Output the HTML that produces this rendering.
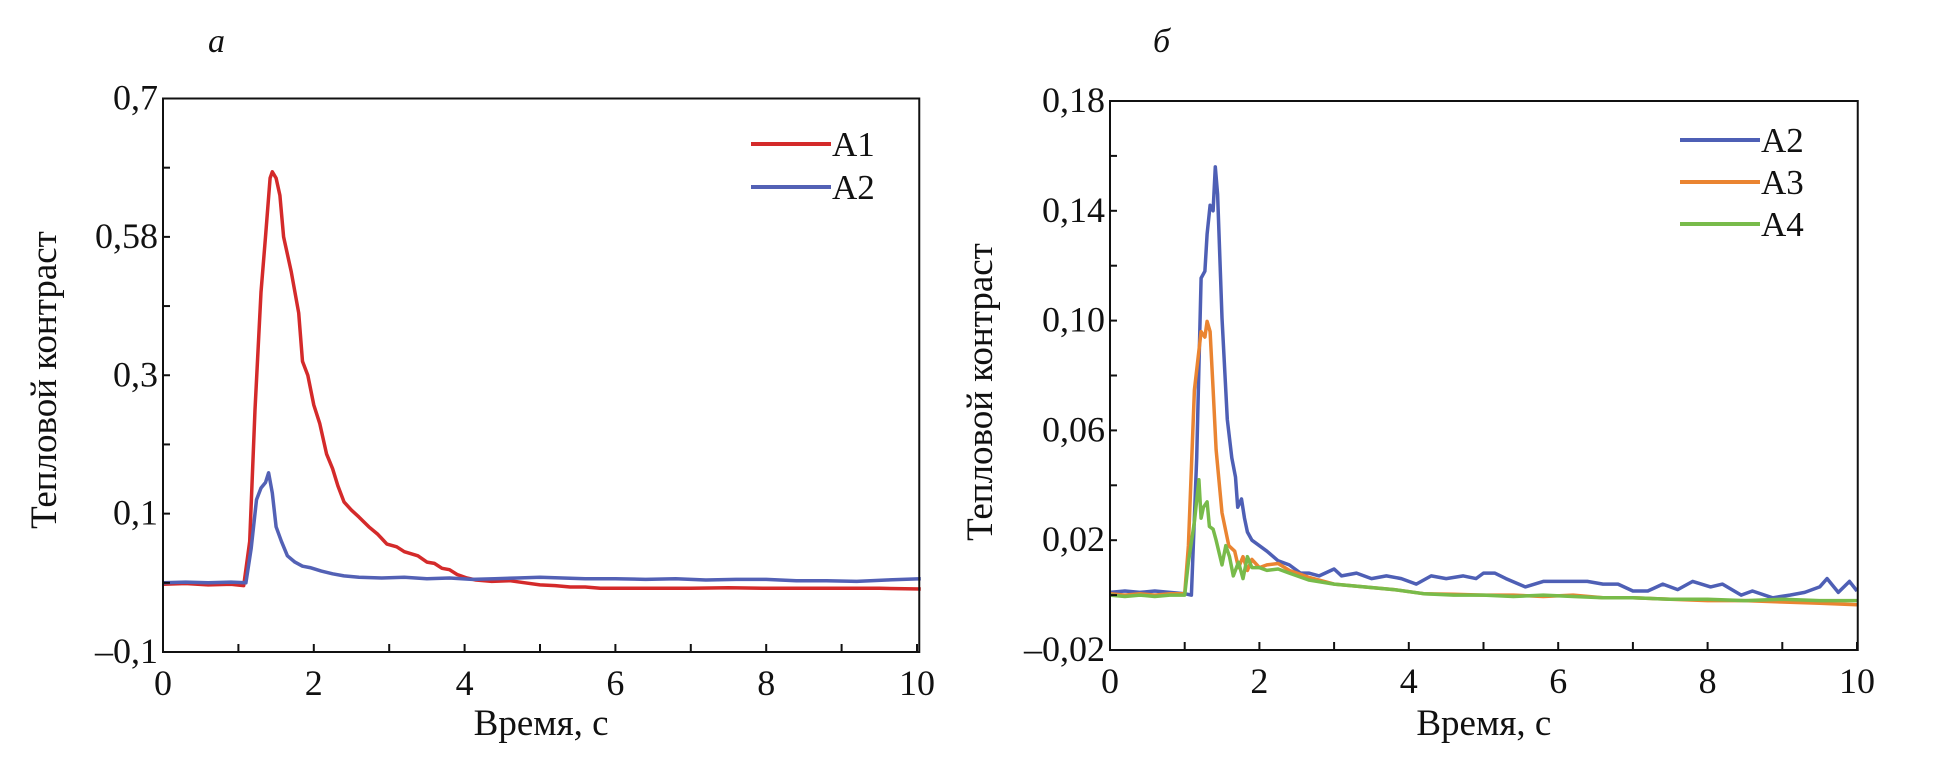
<!DOCTYPE html>
<html><head><meta charset="utf-8">
<style>
html,body{margin:0;padding:0;background:#fff;}
svg{display:block;font-family:"Liberation Serif",serif;}
</style></head>
<body>
<svg id="fig" width="1938" height="767" viewBox="0 0 1938 767" xmlns="http://www.w3.org/2000/svg"></svg>
<script>
// ---- Panel a data ----
const aXTicks = [0, 2, 4, 6, 8, 10];
const aXTickLabels = ["0", "2", "4", "6", "8", "10"];
const aYTicks = [-0.1, 0.1, 0.3, 0.5, 0.7];
const aYTickLabels = ["–0,1", "0,1", "0,3", "0,58", "0,7"];
const aA1T = [0,0.3,0.6,0.9,1.07,1.15,1.22,1.3,1.36,1.42,1.45,1.5,1.55,1.6,1.7,1.8,1.85,1.92,2.0,2.08,2.17,2.25,2.32,2.4,2.5,2.6,2.73,2.85,2.97,3.1,3.2,3.38,3.5,3.6,3.7,3.8,3.9,4.03,4.15,4.36,4.6,4.8,5.0,5.2,5.4,5.6,5.8,6.2,6.6,7.0,7.5,8.0,8.5,9.0,9.5,10.05];
const aA1V = [-0.002,-0.001,-0.003,-0.002,-0.004,0.06,0.25,0.42,0.5,0.585,0.594,0.585,0.56,0.5,0.45,0.39,0.32,0.3,0.257,0.23,0.186,0.165,0.14,0.117,0.105,0.095,0.081,0.07,0.056,0.052,0.045,0.039,0.03,0.028,0.021,0.019,0.012,0.007,0.004,0.002,0.003,0.0,-0.003,-0.004,-0.006,-0.006,-0.008,-0.008,-0.008,-0.008,-0.007,-0.008,-0.008,-0.008,-0.008,-0.009];
const aA2T = [0,0.3,0.6,0.9,1.1,1.17,1.24,1.3,1.36,1.4,1.45,1.5,1.57,1.65,1.75,1.85,1.95,2.1,2.25,2.4,2.6,2.9,3.2,3.5,3.8,4.1,4.4,4.7,5.0,5.3,5.6,6.0,6.4,6.8,7.2,7.6,8.0,8.4,8.8,9.2,9.6,10.05];
const aA2V = [0.0,0.001,0.0,0.001,0.0,0.05,0.12,0.137,0.145,0.159,0.13,0.081,0.06,0.039,0.03,0.024,0.022,0.017,0.013,0.01,0.008,0.007,0.008,0.006,0.007,0.005,0.006,0.007,0.008,0.007,0.006,0.006,0.005,0.006,0.004,0.005,0.005,0.003,0.003,0.002,0.004,0.006];
// ---- Panel b data ----
const bXTicks = [0, 2, 4, 6, 8, 10];
const bXTickLabels = ["0", "2", "4", "6", "8", "10"];
const bYTicks = [-0.02, 0.02, 0.06, 0.10, 0.14, 0.18];
const bYTickLabels = ["–0,02", "0,02", "0,06", "0,10", "0,14", "0,18"];
const bA2T = [0,0.2,0.4,0.6,0.8,1.0,1.09,1.16,1.22,1.27,1.3,1.34,1.38,1.41,1.44,1.5,1.57,1.63,1.68,1.71,1.76,1.8,1.84,1.9,2.0,2.1,2.25,2.4,2.55,2.66,2.8,3.0,3.1,3.3,3.5,3.7,3.9,4.1,4.3,4.5,4.73,4.9,5.0,5.15,5.3,5.56,5.8,6.0,6.39,6.6,6.8,7.0,7.2,7.4,7.6,7.8,8.04,8.2,8.45,8.6,8.87,9.1,9.3,9.5,9.6,9.75,9.9,10.0];
const bA2V = [0.001,0.0015,0.001,0.0015,0.001,0.0005,0.0,0.05,0.1155,0.118,0.1315,0.142,0.14,0.156,0.146,0.101,0.064,0.05,0.043,0.032,0.035,0.028,0.023,0.02,0.018,0.016,0.0125,0.011,0.008,0.008,0.007,0.0095,0.007,0.008,0.006,0.007,0.006,0.004,0.007,0.006,0.007,0.006,0.008,0.008,0.006,0.003,0.005,0.005,0.005,0.004,0.004,0.0015,0.0015,0.004,0.002,0.005,0.003,0.004,0.0,0.0015,-0.001,0.0,0.001,0.003,0.006,0.001,0.005,0.0015];
const bA3T = [0,0.2,0.4,0.6,0.8,1.0,1.05,1.13,1.22,1.27,1.3,1.34,1.38,1.42,1.5,1.59,1.67,1.72,1.78,1.84,1.9,2.0,2.1,2.25,2.4,2.66,3.0,3.4,3.8,4.2,4.6,5.0,5.4,5.8,6.2,6.6,7.0,7.5,8.0,8.5,9.0,9.5,10.0];
const bA3V = [0.0005,0.0,0.0005,0.0,0.0005,0.0005,0.018,0.0747,0.096,0.094,0.0997,0.096,0.075,0.053,0.03,0.018,0.016,0.01,0.014,0.009,0.013,0.01,0.011,0.0115,0.009,0.0065,0.004,0.003,0.002,0.0005,0.0003,0.0,0.0,-0.0005,0.0,-0.001,-0.001,-0.0015,-0.002,-0.002,-0.0025,-0.003,-0.0035];
const bA4T = [0,0.2,0.4,0.6,0.8,1.0,1.05,1.13,1.19,1.22,1.25,1.3,1.33,1.38,1.42,1.5,1.55,1.6,1.65,1.72,1.78,1.84,1.9,2.0,2.1,2.25,2.4,2.66,3.0,3.4,3.8,4.2,4.6,5.0,5.4,5.8,6.2,6.6,7.0,7.5,8.0,8.5,9.0,9.5,10.0];
const bA4V = [0.0,-0.0005,0.0,-0.0005,0.0,0.0,0.012,0.0267,0.042,0.028,0.032,0.034,0.025,0.024,0.02,0.011,0.018,0.014,0.007,0.012,0.006,0.014,0.01,0.01,0.009,0.0095,0.008,0.0055,0.004,0.003,0.002,0.0005,0.0,0.0,-0.0005,0.0,-0.0005,-0.001,-0.001,-0.0015,-0.0015,-0.002,-0.0015,-0.002,-0.002];

const NS = "http://www.w3.org/2000/svg";
const svg = document.getElementById("fig");
function mk(tag, attrs, parent) {
  const e = document.createElementNS(NS, tag);
  for (const k in attrs) e.setAttribute(k, attrs[k]);
  (parent || svg).appendChild(e);
  return e;
}

function drawPanel(cfg) {
  const g = mk("g", {});
  
  
  const sx = v => cfg.x0 + (v - cfg.xmin) / (cfg.xmax - cfg.xmin) * (cfg.x1 - cfg.x0);
  const sy = v => cfg.y1 - (v - cfg.ymin) / (cfg.ymax - cfg.ymin) * (cfg.y1 - cfg.y0);
  const right = sx(cfg.xend);
  cfg.series.forEach(s => {
    let d = "";
    s.t.forEach((t, i) => { d += (i ? "L" : "M") + sx(t).toFixed(1) + "," + sy(s.v[i]).toFixed(1); });
    const p = mk("path", {d: d, fill: "none", stroke: s.color, "stroke-width": 3.5, "stroke-linejoin": "round"}, g);
    
    
  });
  const fr = mk("rect", {x: cfg.x0, y: cfg.y0, width: right - cfg.x0, height: cfg.y1 - cfg.y0, fill: "none", stroke: "#111", "stroke-width": 2}, g);
  
  
  for (let v = cfg.xmin; v <= cfg.xmax + 1e-9; v += 1) {
    const t = mk("line", {x1: sx(v), x2: sx(v), y1: cfg.y1, y2: cfg.y1 - 8, stroke: "#111", "stroke-width": 2}, g);
    
    
  }
  cfg.xTicks.forEach((v, i) => {
    const tx = mk("text", {x: sx(v), y: cfg.y1 + 43, "font-size": 36, "text-anchor": "middle", fill: "#111"}, g);
    tx.textContent = cfg.xLabels[i];
    
    
  });
  for (let i = 0; i < cfg.yTicks.length - 1; i++) {
    const a = cfg.yTicks[i], b = cfg.yTicks[i + 1];
    [a, (a + b) / 2].forEach(v => {
      const t = mk("line", {x1: cfg.x0, x2: cfg.x0 + 7, y1: sy(v), y2: sy(v), stroke: "#111", "stroke-width": 2}, g);
      
      
    });
  }
  cfg.yTicks.forEach((v, i) => {
    const tx = mk("text", {x: cfg.x0 - 5, y: sy(v) + 11, "font-size": 36, "text-anchor": "end", fill: "#111"}, g);
    tx.textContent = cfg.yLabels[i];
    
    
  });
  const xt = mk("text", {x: (cfg.x0 + right) / 2, y: 735, "font-size": 37, "text-anchor": "middle", fill: "#111"}, g);
  xt.textContent = "Время, с";
  
  
  const yt = mk("text", {x: 0, y: 0, "font-size": 37, "text-anchor": "middle", fill: "#111", transform: "translate(" + cfg.yTitleX + "," + cfg.yTitleY + ") rotate(-90)"}, g);
  yt.textContent = "Тепловой контраст";
  
  
  const pl = mk("text", {x: cfg.labelX, y: 52, "font-size": 34, "font-style": "italic", fill: "#111"}, g);
  pl.textContent = cfg.label;
  
  
  cfg.series.forEach((s, i) => {
    const ly = cfg.legY + i * cfg.legStep;
    const ll = mk("line", {x1: cfg.legX, x2: cfg.legX + 80, y1: ly, y2: ly, stroke: s.color, "stroke-width": 4}, g);
    
    
    const lt = mk("text", {x: cfg.legX + 81, y: ly + 12, "font-size": 35, fill: "#111"}, g);
    lt.textContent = s.label;
    
    
  });
}

drawPanel({name: "panel-a", label: "a", labelX: 208,
  x0: 163, x1: 917, y0: 98.5, y1: 652, xmin: 0, xmax: 10, xend: 10.03, ymin: -0.1, ymax: 0.7,
  xTicks: aXTicks, xLabels: aXTickLabels, yTicks: aYTicks, yLabels: aYTickLabels,
  yTitleX: 56, yTitleY: 380, legX: 751, legY: 144, legStep: 43,
  series: [{label: "A1", color: "#d42a2a", t: aA1T, v: aA1V}, {label: "A2", color: "#5361b5", t: aA2T, v: aA2V}]});

drawPanel({name: "panel-b", label: "б", labelX: 1153,
  x0: 1110, x1: 1857, y0: 101, y1: 650, xmin: 0, xmax: 10, xend: 10.01, ymin: -0.02, ymax: 0.18,
  xTicks: bXTicks, xLabels: bXTickLabels, yTicks: bYTicks, yLabels: bYTickLabels,
  yTitleX: 992, yTitleY: 392, legX: 1680, legY: 140, legStep: 42,
  series: [{label: "A2", color: "#4e5fb5", t: bA2T, v: bA2V}, {label: "A3", color: "#ea8431", t: bA3T, v: bA3V}, {label: "A4", color: "#78bb4a", t: bA4T, v: bA4V}]});
</script>
</body></html>
